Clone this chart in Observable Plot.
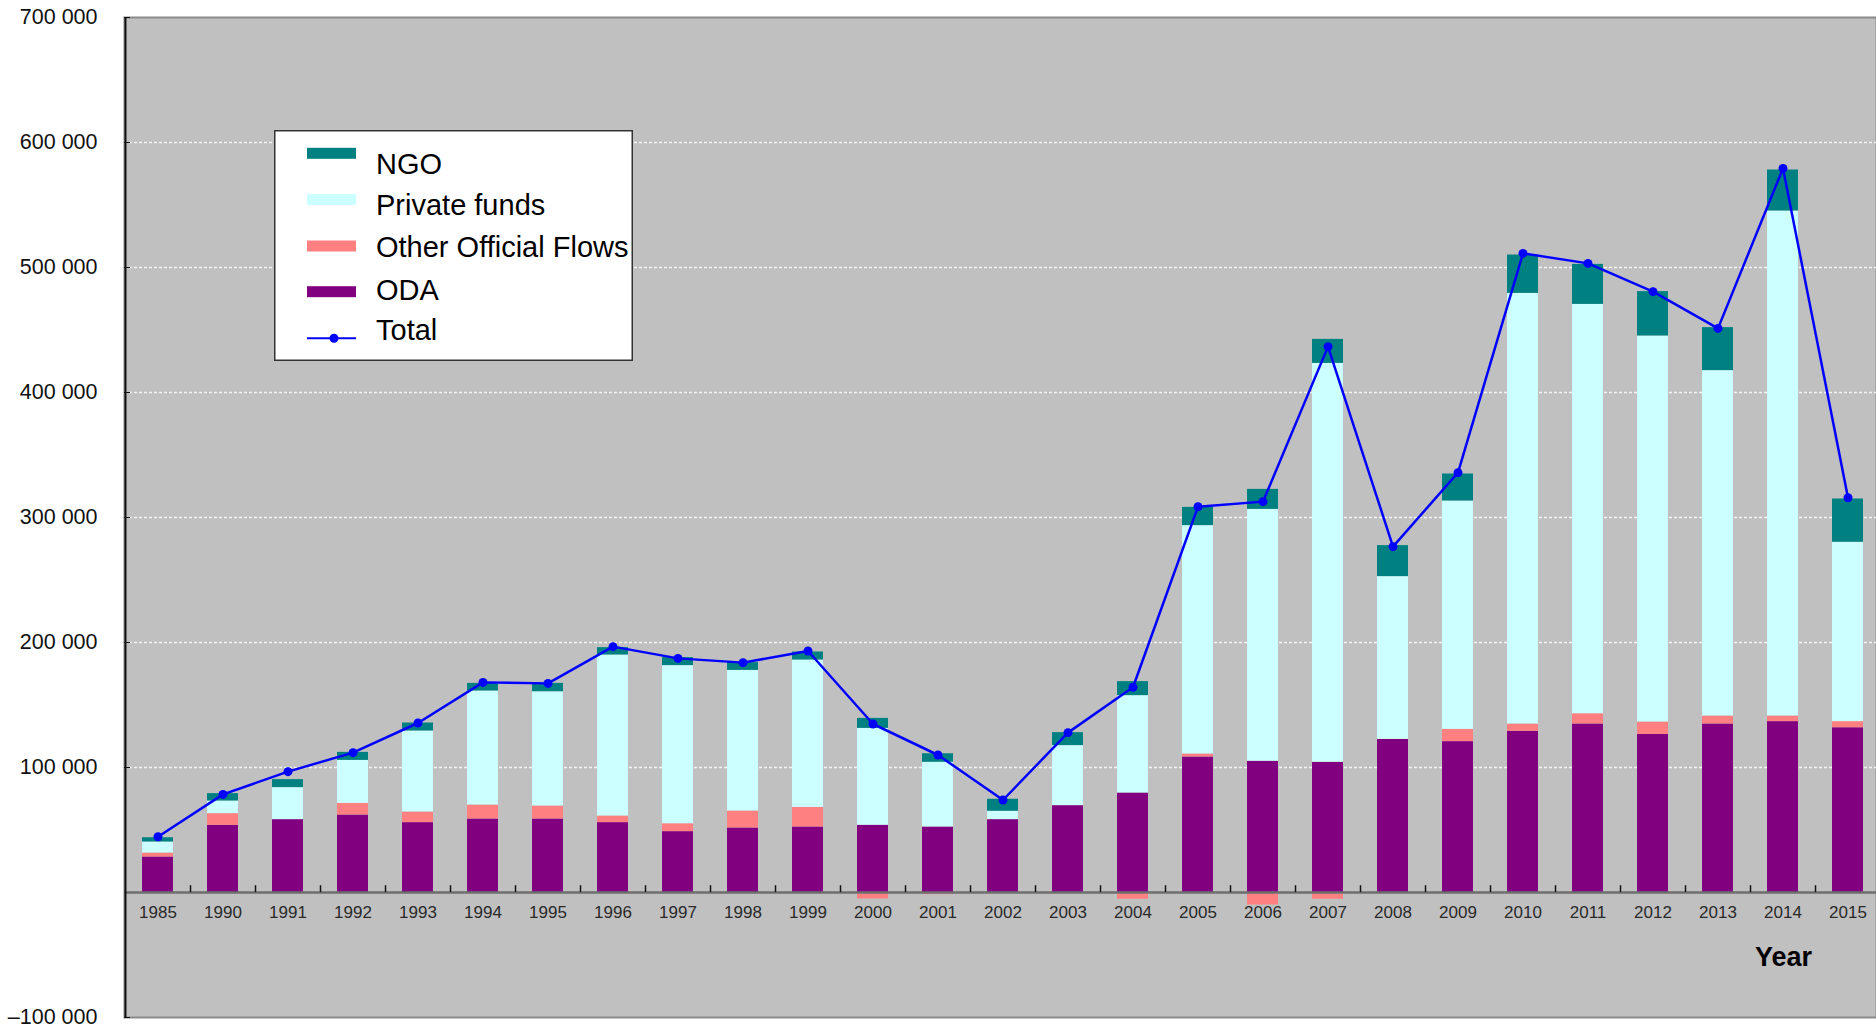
<!DOCTYPE html>
<html>
<head>
<meta charset="utf-8">
<script src="https://cdn.jsdelivr.net/npm/d3@7"></script>
<script src="https://cdn.jsdelivr.net/npm/@observablehq/plot@0.6"></script>
<style>
  html, body { margin: 0; padding: 0; background: #fff; }
  #chart { position: relative; width: 1876px; height: 1027px; font-family: "Liberation Sans", Arial, sans-serif; }
  #legend { position: absolute; left: 274px; top: 130px; }
</style>
</head>
<body>
<div id="chart"></div>
<script>
// Years on the category axis
const years = ["1985", "1990", "1991", "1992", "1993", "1994", "1995", "1996", "1997", "1998", "1999",
  "2000", "2001", "2002", "2003", "2004", "2005", "2006", "2007", "2008", "2009",
  "2010", "2011", "2012", "2013", "2014", "2015"];

// Flows by type (net amounts)
const oda = [28400, 53800, 58300, 62000, 55900, 58800, 58800, 55900, 48700, 51600, 52400,
  53800, 52400, 58300, 69500, 79600, 108400, 105000, 104200, 122500, 120700,
  129000, 134800, 126500, 134800, 136700, 131800];
const otherOfficialFlows = [3200, 9300, 0, 9300, 8500, 11200, 10400, 5300, 6300, 13600, 15700,
  -5200, -1700, 0, 0, -5400, 2400, -10000, -5400, 0, 9800,
  5800, 8200, 9900, 6400, 4500, 4900];
const privateFunds = [8800, 10100, 25600, 34400, 64800, 91200, 91400, 128800, 126500, 112500, 117900,
  77500, 51800, 6700, 48000, 77900, 182700, 201500, 319100, 130200, 182700,
  344500, 327500, 308800, 276300, 404000, 143500];
const ngo = [3400, 5900, 6400, 6400, 6400, 6100, 6700, 5900, 6400, 6200, 6400,
  8000, 6800, 9600, 10400, 11200, 14600, 16000, 19200, 24800, 21600,
  30700, 32000, 35500, 34400, 32800, 34600];
const total = [44600, 78500, 96700, 111900, 135600, 168100, 167300, 196700, 187300, 183900, 193200,
  134800, 110000, 74000, 127900, 164200, 308600, 312700, 436700, 276700, 335900,
  511300, 503300, 480700, 451300, 579300, 315800];

// Value axis tick labels (no label at zero) and gridlines
const yTicks = [-100000, 100000, 200000, 300000, 400000, 500000, 600000, 700000];
const gridValues = [100000, 200000, 300000, 400000, 500000, 600000];

// Series (stacking order bottom to top) and their colours
const seriesNames = ["ODA", "Other Official Flows", "Private funds", "NGO"];
const seriesColors = ["#800080", "#ff8080", "#ccffff", "#008080"];
const seriesValues = [oda, otherOfficialFlows, privateFunds, ngo];

const rows = years.flatMap((year, i) =>
  seriesNames.map((series, k) => ({year, series, value: seriesValues[k][i]})));
const totals = years.map((year, i) => ({year, value: total[i]}));

const xRange = [124.4, 1880];
const step = (xRange[1] - xRange[0]) / years.length;

const spaced = (v) => (v < 0 ? "\u2013" : "") + d3.format(",")(Math.abs(v)).replace(/,/g, " ");

const chart = Plot.plot({
  width: 1876,
  height: 1027,
  marginLeft: 124,
  marginRight: 0,
  marginTop: 17,
  marginBottom: 10,
  style: {fontFamily: "'Liberation Sans', Arial, sans-serif", background: "white", color: "#111"},
  x: {domain: years, range: xRange, paddingInner: 0.53, paddingOuter: 0.265, axis: null},
  y: {domain: [-100000, 700000], axis: null},
  color: {domain: seriesNames, range: seriesColors},
  marks: [
    Plot.frame({fill: "#c0c0c0", stroke: "#8a8a8a", strokeWidth: 2}),
    Plot.ruleY(gridValues, {stroke: "#f4f4f4", strokeWidth: 1.5, strokeDasharray: "3,2"}),
    Plot.barY(rows, {x: "year", y: "value", fill: "series", order: seriesNames}),
    Plot.ruleY([0], {stroke: "#6e6e6e", strokeWidth: 2.5}),
    // small ticks between categories on the zero line
    Plot.ruleX(years.slice(0, -1), {x: (d) => d, dx: step / 2, y1: 0, y2: 5400, stroke: "#111", strokeWidth: 1.5}),
    // left axis line
    Plot.ruleX([years[0]], {x: (d) => d, dx: -step / 2, stroke: "#111", strokeWidth: 2}),
    Plot.line(totals, {x: "year", y: "value", stroke: "#0000ff", strokeWidth: 2.5}),
    Plot.dot(totals, {x: "year", y: "value", fill: "#0000ff", r: 4.5}),
    Plot.axisY(yTicks, {anchor: "left", label: null, tickSize: -6, tickPadding: 33, tickFormat: spaced, fontSize: 21.5, stroke: "#111"}),
    Plot.text(years, {x: (d) => d, y: 0, dy: 20, text: (d) => d, fontSize: 17, fill: "#2a2a2a"}),
    Plot.text(["Year"], {frameAnchor: "bottom-right", textAnchor: "middle", lineAnchor: "middle", dx: -93, dy: -60, fontSize: 27, fontWeight: "bold", fill: "#000"})
  ]
});

const container = document.getElementById("chart");
container.appendChild(chart);

// Legend box drawn over the plot area
const legendItems = [...seriesNames].reverse().map((name) => ({name, color: seriesColors[seriesNames.indexOf(name)]}));
const legend = d3.select(container).append("svg")
  .attr("id", "legend")
  .attr("width", 360)
  .attr("height", 232)
  .style("font-family", "'Liberation Sans', Arial, sans-serif");
legend.append("rect")
  .attr("x", 0.75).attr("y", 0.75).attr("width", 357.5).attr("height", 229.5)
  .attr("fill", "#fff").attr("stroke", "#333").attr("stroke-width", 1.5);

const swatchY = [23.3, 69.5, 116, 161.7, 208.3];
const textY = [33.3, 74, 116.7, 159, 199.7];
legendItems.forEach((item, i) => {
  legend.append("rect")
    .attr("x", 33).attr("y", swatchY[i] - 5.5).attr("width", 49).attr("height", 11)
    .attr("fill", item.color);
  legend.append("text")
    .attr("x", 102).attr("y", textY[i] + 10.5)
    .attr("font-size", 29).attr("fill", "#000")
    .text(item.name);
});
legend.append("line")
  .attr("x1", 33).attr("x2", 82).attr("y1", swatchY[4]).attr("y2", swatchY[4])
  .attr("stroke", "#0000ff").attr("stroke-width", 2);
legend.append("circle")
  .attr("cx", 60).attr("cy", swatchY[4]).attr("r", 4.5).attr("fill", "#0000ff");
legend.append("text")
  .attr("x", 102).attr("y", textY[4] + 10.5)
  .attr("font-size", 29).attr("fill", "#000")
  .text("Total");
</script>
</body>
</html>
